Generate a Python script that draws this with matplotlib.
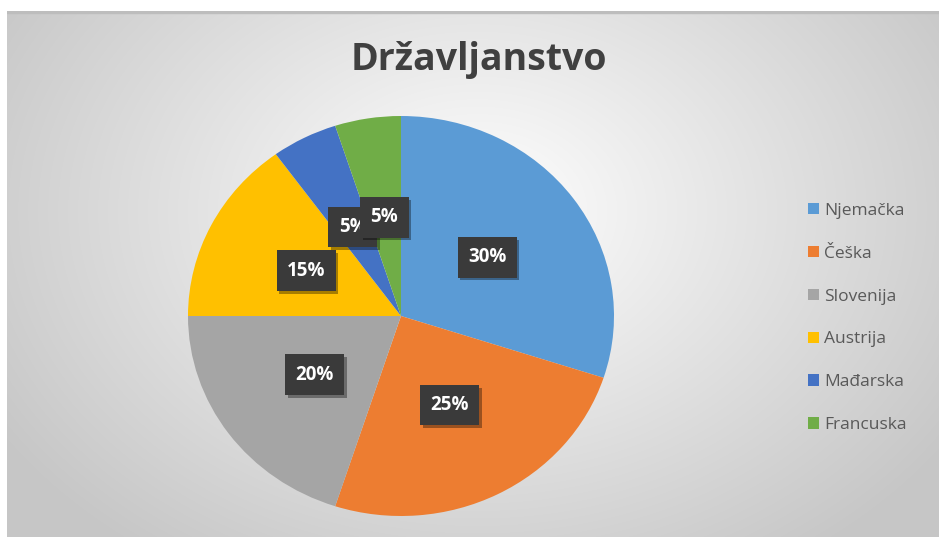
import numpy as np
import matplotlib
matplotlib.use("Agg")
from matplotlib import pyplot as plt
from matplotlib.patches import Rectangle
import matplotlib.patheffects as pe

# podaci
drzave = ['Njemačka', 'Češka', 'Slovenija', 'Austrija', 'Mađarska', 'Francuska']
udjeli = [30, 25, 20, 15, 5, 5]
boje = ['#5B9BD5', '#ED7D31', '#A5A5A5', '#FFC000', '#4472C4', '#70AD47']
naslov = 'Državljanstvo'

W, H = 939, 537
fig = plt.figure(figsize=(W / 100, H / 100), dpi=100)
fig.patch.set_facecolor('white')

# pozadina s radijalnim gradijentom
bg = fig.add_axes([7 / W, 0, 1 - 7 / W, (H - 11) / H])
yy, xx = np.mgrid[0:526, 0:932]
d = np.sqrt(((xx - 470) / 560.0) ** 2 + ((yy - 200) / 420.0) ** 2)
d = np.clip(d, 0, 1)
val = 1.0 - 0.22 * d
img = np.dstack([val, val, val])
bg.imshow(img, aspect='auto', extent=(0, 1, 0, 1), origin='upper')
bg.add_patch(Rectangle((0, 0.997), 1, 0.003, color='#bdbdbd', transform=bg.transAxes))
bg.set_axis_off()

# pita
ax = fig.add_axes([188 / W, 21 / H, 426 / W, 400 / H])
wedges, texts, autotexts = ax.pie(
    udjeli, colors=boje, startangle=90, counterclock=False,
    autopct='%d%%', pctdistance=0.5,
    wedgeprops={'linewidth': 0},
    textprops={'color': 'white', 'fontsize': 13.5, 'fontweight': 'bold', 'family': 'Open Sans'})
for t in autotexts:
    t.set_bbox(dict(boxstyle='square,pad=0.55', facecolor='#3a3a3a', edgecolor='none'))
    t.get_bbox_patch().set_path_effects([
        pe.SimplePatchShadow(offset=(2, -2), shadow_rgbFace='black', alpha=0.35), pe.Normal()])
ax.set_aspect('auto')
ax.set_xlim(-1, 1)
ax.set_ylim(-1, 1)
ax.set_axis_off()

fig.text(479 / W, 1 - 60 / H, naslov, ha='center', va='center',
         fontsize=27, fontweight='bold', color='#404040', family='Open Sans')

leg = fig.legend(wedges, drzave, loc='center left', bbox_to_anchor=(792 / W, 1 - 318 / H),
                 frameon=False, labelspacing=1.55, handlelength=0.65,
                 handleheight=0.65, handletextpad=0.3, prop={'family': 'Open Sans', 'size': 12.5})
for t in leg.get_texts():
    t.set_color('#595959')
for h in leg.legend_handles:
    h.set_linewidth(0)

fig.savefig('out.png', dpi=100)
